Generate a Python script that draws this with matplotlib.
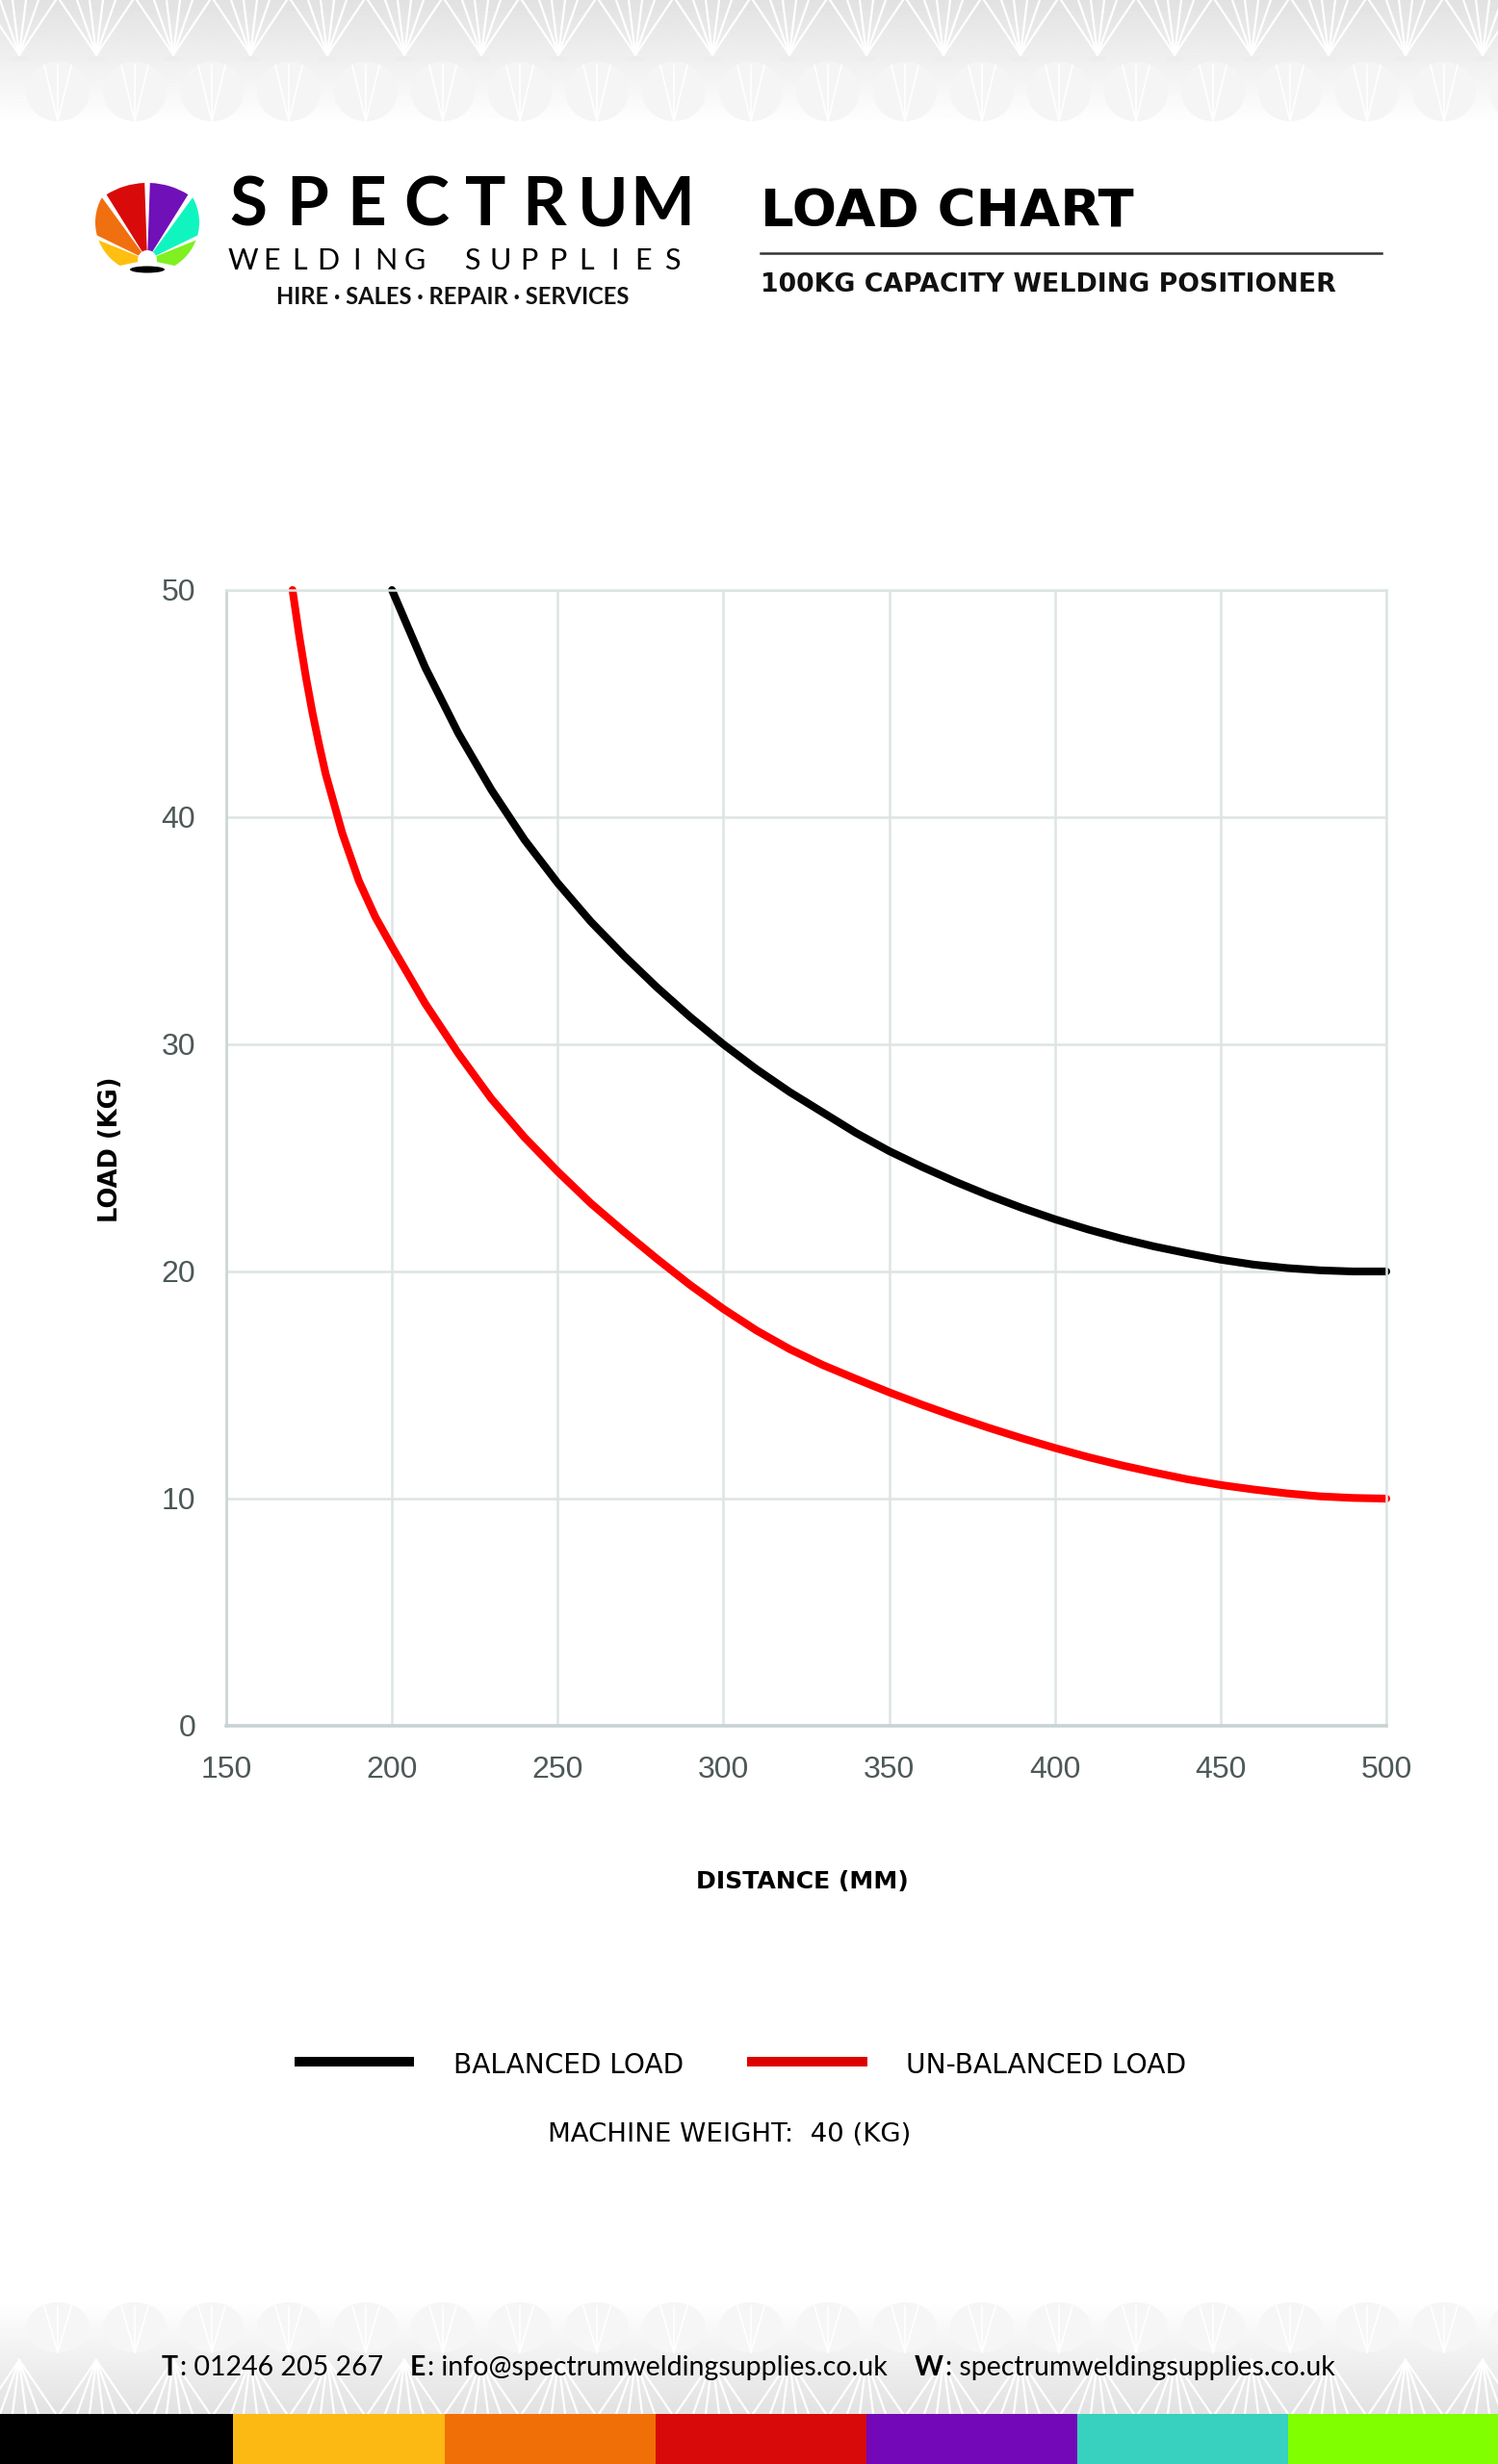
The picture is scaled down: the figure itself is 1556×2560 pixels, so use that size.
import numpy as np
import matplotlib.pyplot as plt
from matplotlib.patches import Wedge, Ellipse, Rectangle

W, H = 1556, 2560

# values
balanced_mm = [200, 210, 220, 230, 240, 250, 260, 270, 280, 290, 300, 310, 320, 330, 340, 350,
               360, 370, 380, 390, 400, 410, 420, 430, 440, 450, 460, 470, 480, 490, 500]
balanced_kg = [50.0, 46.6, 43.7, 41.2, 39.0, 37.1, 35.4, 33.9, 32.5, 31.2, 30.0, 28.9, 27.9, 27.0, 26.1, 25.3,
               24.6, 23.95, 23.35, 22.8, 22.3, 21.85, 21.45, 21.1, 20.8, 20.52, 20.3, 20.15, 20.05, 20.0, 20.0]
unbalanced_mm = [170, 172, 174, 176, 178, 180, 185, 190, 195, 200, 210, 220, 230, 240, 250, 260, 270, 280, 290,
                 300, 310, 320, 330, 340, 350, 360, 370, 380, 390, 400, 410, 420, 430, 440, 450, 460, 470, 480, 490, 500]
unbalanced_kg = [50.0, 48.0, 46.2, 44.6, 43.2, 41.9, 39.3, 37.2, 35.6, 34.3, 31.8, 29.6, 27.6, 25.9, 24.4, 23.0, 21.75, 20.55, 19.4,
                 18.35, 17.4, 16.58, 15.88, 15.27, 14.68, 14.13, 13.61, 13.12, 12.66, 12.23, 11.83, 11.47, 11.15, 10.85,
                 10.6, 10.4, 10.23, 10.1, 10.03, 10.0]
x_ticks = [150, 200, 250, 300, 350, 400, 450, 500]
y_ticks = [0, 10, 20, 30, 40, 50]
series_names = ['BALANCED LOAD', 'UN-BALANCED LOAD']
machine_weight = 40

strip_colors = ['#000000', '#fdb913', '#f07007', '#d80a0a', '#7208b8', '#38d0be', '#80ff00']

fig = plt.figure(figsize=(W / 100, H / 100), dpi=100)
bg = fig.add_axes([0, 0, 1, 1], zorder=0)
bg.axis('off')


def fit_text(x0, x1, y, s, **kw):
    # place text at x0 and scale the font so it ends at x1
    t = bg.text(x0, y, s, fontsize=20, ha='left', va='center', **kw)
    w = t.get_window_extent(fig.canvas.get_renderer()).width
    t.set_fontsize(20 * (x1 - x0) / w)
    return t


def spaced(x_first, x_last, y, s, **kw):
    xs = np.linspace(x_first, x_last, len(s))
    for ch, x in zip(s, xs):
        bg.text(x, y, ch, ha='center', va='center', **kw)


# header / footer texture
grad = np.linspace(0.885, 1.0, 100)[:, None]
bg.imshow(grad, extent=(0, W, 130, 0), cmap='gray', vmin=0, vmax=1, aspect='auto', zorder=0)
bg.imshow(grad[::-1], extent=(0, W, 2508, 2390), cmap='gray', vmin=0, vmax=1, aspect='auto', zorder=0)


def fan_row(y_tip, y_end, x0, step, color, lw):
    for cx in np.arange(x0, W + step, step):
        for dx in (-38, -20, -7, 7, 20, 38):
            bg.plot([cx, cx + dx], [y_tip, y_end], color=color, lw=lw, zorder=1)


def leaf_row(yc, h, x0, step, fill):
    for cx in np.arange(x0, W + step, step):
        bg.add_patch(Ellipse((cx, yc), 66, h, facecolor=fill, edgecolor='none', zorder=1))
        for dx in (-14, 0, 14):
            bg.plot([cx, cx + dx], [yc + h / 2, yc - h / 2 + 4], color='white', lw=1.2, zorder=1)


fan_row(57, 0, 20, 80, 'white', 1.6)
for cx in np.arange(20, W + 80, 80):
    bg.add_patch(Ellipse((cx, 61), 20, 6, facecolor='#ededed', edgecolor='none', zorder=1))
leaf_row(95, 62, 60, 80, '#f5f5f5')
leaf_row(2418, 52, 60, 80, '#f6f6f6')
fan_row(2452, 2508, 20, 80, 'white', 1.6)

# colour strip
edges = [0, 242, 462, 681, 900, 1119, 1338, 1556]
for i, c in enumerate(strip_colors):
    bg.add_patch(Rectangle((edges[i], 2508), edges[i + 1] - edges[i], 52, facecolor=c, edgecolor='none', zorder=2))

# logo
clip = Ellipse((153, 231), 108, 106, facecolor='none', edgecolor='none')
bg.add_patch(clip)
logo = [('#d90a0a', 92, 122), ('#7010b8', 58, 88), ('#f07010', 126, 154), ('#10f5c0', 26, 54),
        ('#ffbf10', 158, 192), ('#80f020', -12, 22)]
for c, a1, a2 in logo:
    wdg = Wedge((153, 270), 80, -a2, -a1, width=70, facecolor=c, edgecolor='none', zorder=3)
    bg.add_patch(wdg)
    wdg.set_clip_path(clip)
bg.add_patch(Ellipse((153, 280), 36, 7, facecolor='black', edgecolor='none', zorder=3))

spaced(258, 688, 214, 'SPECTRUM', fontsize=51, family='Lato', fontweight='bold', color='black')
spaced(252, 698, 271, 'WELDING SUPPLIES', fontsize=22, family='Lato', fontweight='normal', color='black')
fit_text(287, 656, 308, 'HIRE \u00b7 SALES \u00b7 REPAIR \u00b7 SERVICES', family='Lato', fontweight='bold', color='#111111')

fit_text(790, 1177, 220, 'LOAD CHART', family='DejaVu Sans', fontweight='bold', color='black')
bg.plot([790, 1435], [263, 263], color='#333333', lw=1.8)
fit_text(790, 1385, 296, '100KG CAPACITY WELDING POSITIONER', family='DejaVu Sans', fontweight='bold', color='#111111')

# chart
ax = fig.add_axes([235 / W, 1 - 1793 / H, 1205 / W, 1180 / H], zorder=2)
ax.set_facecolor('none')
ax.set_xlim(150, 500)
ax.set_ylim(0, 50)
ax.set_xticks(x_ticks)
ax.set_yticks(y_ticks)
ax.grid(color='#dde4e4', lw=1.8)
ax.set_axisbelow(True)
for side in ['top', 'right']:
    ax.spines[side].set_color('#dde4e4')
    ax.spines[side].set_linewidth(1.8)
ax.spines['left'].set_color('#cdd7d7')
ax.spines['left'].set_linewidth(2)
ax.spines['bottom'].set_color('#c9d3d3')
ax.spines['bottom'].set_linewidth(2.6)
ax.tick_params(length=0, labelsize=23, labelcolor='#4d5858')
ax.tick_params(axis='y', pad=23)
ax.tick_params(axis='x', pad=22)
for lab in ax.get_xticklabels() + ax.get_yticklabels():
    lab.set_family('Liberation Sans')

ax.plot(balanced_mm, balanced_kg, color='black', lw=5.8, solid_capstyle='round',
        solid_joinstyle='round', clip_on=False, label=series_names[0])
ax.plot(unbalanced_mm, unbalanced_kg, color='#ff0000', lw=5.8, solid_capstyle='round',
        solid_joinstyle='round', clip_on=False, label=series_names[1])

bg.text(115, 1194, 'LOAD (KG)', rotation=90, ha='center', va='center', fontsize=18.5,
        family='DejaVu Sans', fontweight='bold', color='black')
fit_text(723, 944, 1955, 'DISTANCE (MM)', family='DejaVu Sans', fontweight='bold', color='black')

# legend
bg.add_patch(Rectangle((306, 2137), 124, 10, facecolor='black', edgecolor='none'))
bg.add_patch(Rectangle((776, 2137), 125, 10, facecolor='#dd0000', edgecolor='none'))
fit_text(471, 710, 2146, series_names[0], family='DejaVu Sans', color='black')
fit_text(941, 1232, 2146, series_names[1], family='DejaVu Sans', color='black')
fit_text(569, 945, 2218, 'MACHINE WEIGHT:  %d (KG)' % machine_weight, family='DejaVu Sans', color='black')

# footer contact line
pieces = [('T', 'bold'), (': 01246 205 267', 'normal'), ('E', 'bold'), (': info@spectrumweldingsupplies.co.uk', 'normal'),
          ('W', 'bold'), (': spectrumweldingsupplies.co.uk', 'normal')]
r = fig.canvas.get_renderer()
fs = 20.5
x = 168
for i, (s, wt) in enumerate(pieces):
    t = bg.text(x, 2460, s, fontsize=fs, family='Lato', fontweight=wt, ha='left', va='center', color='black', zorder=3)
    x += t.get_window_extent(r).width + (2 if wt == 'bold' else 28)

bg.set_xlim(0, W)
bg.set_ylim(H, 0)
fig.savefig('out.png', dpi=100, facecolor='white')
